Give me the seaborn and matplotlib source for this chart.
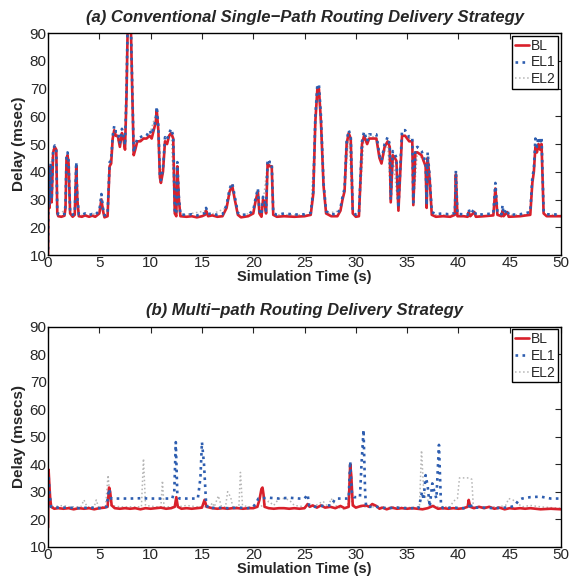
import pandas as pd
import matplotlib
matplotlib.use("Agg")
import matplotlib.pyplot as plt
from matplotlib.lines import Line2D
import seaborn as sns

# (a) single-path: (time s, delay ms)
bl_a = [(0.0, 10), (0.05, 40), (0.15, 27), (0.25, 42), (0.35, 29), (0.5, 47), (0.65, 49), (0.8, 48), (0.9, 25), (1.0, 24),
        (1.3, 23.8), (1.6, 24.2), (1.7, 27), (1.8, 45), (1.9, 46), (2.0, 43), (2.15, 25), (2.4, 23.8), (2.6, 24.5), (2.75, 42),
        (2.85, 30), (3.0, 24), (3.3, 23.8), (3.6, 24.3), (4.0, 23.8), (4.3, 24.2), (4.6, 23.8), (5.0, 25), (5.2, 30), (5.35, 26),
        (5.5, 23.6), (5.8, 24), (6.0, 42), (6.15, 43), (6.3, 52), (6.45, 55), (6.6, 53), (6.8, 53), (7.0, 49), (7.2, 54),
        (7.35, 52), (7.5, 48), (7.65, 68), (7.75, 90), (7.85, 96), (8.05, 96), (8.2, 70), (8.35, 46), (8.5, 48), (8.7, 51),
        (9.0, 51), (9.3, 52), (9.6, 52), (9.9, 53), (10.1, 52), (10.3, 55), (10.5, 58), (10.6, 62), (10.75, 55), (10.9, 38),
        (11.0, 36), (11.2, 40), (11.4, 51), (11.6, 50), (11.8, 53), (12.0, 54), (12.2, 52), (12.35, 25), (12.5, 24), (12.6, 42),
        (12.75, 30), (12.9, 24), (13.5, 23.8), (14.0, 24), (14.5, 23.6), (15.0, 24), (15.3, 24.5), (15.4, 26), (15.6, 24), (16.0, 24.3),
        (16.5, 23.8), (17.0, 24), (17.4, 27), (17.7, 33), (17.95, 35), (18.2, 30), (18.5, 24.5), (18.8, 23.6), (19.5, 24), (20.0, 25),
        (20.2, 29), (20.45, 33), (20.6, 25), (20.8, 23.8), (20.95, 30), (21.1, 29), (21.25, 25), (21.4, 43), (21.6, 42), (21.8, 42),
        (21.95, 24.5), (22.3, 23.8), (23.0, 24), (24.0, 23.8), (25.0, 24), (25.6, 24.5), (25.85, 32), (26.05, 58), (26.25, 70), (26.4, 70),
        (26.6, 58), (26.85, 35), (27.1, 25), (27.6, 24), (28.2, 24), (28.5, 26), (28.7, 30), (28.9, 33), (29.1, 50), (29.3, 54),
        (29.5, 52), (29.7, 25), (30.0, 23.8), (30.3, 24), (30.6, 50), (30.8, 53), (31.1, 50), (31.3, 52), (31.6, 52), (32.0, 52),
        (32.3, 45), (32.5, 43), (32.8, 49), (33.1, 51), (33.3, 49), (33.4, 29), (33.6, 46), (33.8, 45), (33.95, 44), (34.15, 26),
        (34.5, 53), (34.8, 53), (35.2, 51), (35.5, 51), (35.6, 28), (35.8, 47), (36.0, 47), (36.4, 46), (36.6, 44), (36.8, 42),
        (36.9, 27), (37.0, 45), (37.2, 37), (37.4, 24.5), (37.8, 23.8), (38.5, 24), (39.2, 23.8), (39.65, 24.5), (39.75, 39), (39.9, 24),
        (40.5, 24), (40.9, 23.8), (41.0, 25.5), (41.15, 24), (41.55, 25.5), (41.7, 23.8), (42.5, 24), (43.4, 24.3), (43.6, 34), (43.8, 24.5),
        (44.2, 24), (44.3, 26), (44.4, 24), (44.75, 25.5), (44.9, 23.8), (46.0, 24), (47.0, 24.5), (47.2, 36), (47.35, 40), (47.5, 49),
        (47.65, 47), (47.8, 50), (47.95, 48), (48.1, 50), (48.3, 25), (48.6, 24), (50.0, 24)]

el1_a = [(0.0, 12), (0.05, 42), (0.15, 28), (0.25, 43), (0.35, 30), (0.5, 48), (0.65, 49.5), (0.8, 48.5), (0.9, 25.5), (1.0, 24.6),
         (1.3, 24.5), (1.6, 24.8), (1.7, 28), (1.8, 46), (1.9, 47), (2.0, 44), (2.15, 25.5), (2.4, 24.5), (2.6, 25), (2.75, 43.5),
         (2.85, 31), (3.0, 24.6), (3.3, 24.5), (3.6, 25), (4.0, 24.4), (4.3, 24.8), (4.6, 24.5), (5.0, 26), (5.2, 32), (5.35, 27),
         (5.5, 24.3), (5.8, 24.6), (6.0, 43.5), (6.15, 44), (6.3, 53), (6.45, 56.5), (6.6, 54.5), (6.8, 54.5), (7.0, 50.5), (7.2, 55.5),
         (7.35, 53), (7.5, 49.5), (7.65, 70), (7.75, 92), (7.85, 97), (8.05, 97), (8.2, 72), (8.35, 47), (8.5, 49.5), (8.7, 52),
         (9.0, 52.5), (9.3, 53), (9.6, 53), (9.9, 55), (10.1, 53.5), (10.3, 56), (10.5, 59), (10.6, 63.5), (10.75, 56.5), (10.9, 39),
         (11.0, 37), (11.2, 41), (11.4, 52.5), (11.6, 51.5), (11.8, 54), (12.0, 55.5), (12.2, 53), (12.35, 26), (12.5, 24.8), (12.6, 43.5),
         (12.75, 31), (12.9, 24.6), (13.5, 24.5), (14.0, 24.7), (14.5, 24.3), (15.0, 24.7), (15.3, 25.2), (15.4, 27), (15.6, 24.8), (16.0, 25),
         (16.5, 24.5), (17.0, 24.7), (17.4, 28), (17.7, 34), (17.95, 36), (18.2, 31), (18.5, 25.2), (18.8, 24.4), (19.5, 24.7), (20.0, 26),
         (20.2, 30), (20.45, 34), (20.6, 26), (20.8, 24.5), (20.95, 31), (21.1, 30), (21.25, 26), (21.4, 44.5), (21.6, 43.5), (21.8, 43.5),
         (21.95, 25.2), (22.3, 24.5), (23.0, 25), (24.0, 24.6), (25.0, 24.7), (25.6, 25.2), (25.85, 33), (26.05, 60), (26.25, 71.5), (26.4, 71.5),
         (26.6, 60), (26.85, 36), (27.1, 25.8), (27.6, 24.7), (28.2, 24.8), (28.5, 27), (28.7, 31), (28.9, 34), (29.1, 51), (29.3, 55),
         (29.5, 53), (29.7, 25.8), (30.0, 24.5), (30.3, 24.8), (30.6, 51), (30.8, 54.5), (31.1, 51), (31.3, 53.5), (31.6, 53.5), (32.0, 53.5),
         (32.3, 46), (32.5, 44), (32.8, 50), (33.1, 52.5), (33.3, 50), (33.4, 30), (33.6, 47.5), (33.8, 46.5), (33.95, 45), (34.15, 27),
         (34.5, 55), (34.8, 55), (35.2, 52.5), (35.5, 52.5), (35.6, 29), (35.8, 48.5), (36.0, 49), (36.4, 47.5), (36.6, 45.5), (36.8, 43.5),
         (36.9, 28), (37.0, 47), (37.2, 38), (37.4, 25.5), (37.8, 24.8), (38.5, 25), (39.2, 24.6), (39.65, 25.2), (39.75, 40.5), (39.9, 24.8),
         (40.5, 24.7), (40.9, 24.5), (41.0, 26.5), (41.15, 24.8), (41.55, 26.5), (41.7, 24.5), (42.5, 24.7), (43.4, 25), (43.6, 36), (43.8, 25.2),
         (44.2, 24.7), (44.3, 28), (44.4, 24.8), (44.75, 26.5), (44.9, 24.5), (46.0, 24.7), (47.0, 25.5), (47.2, 38), (47.35, 41), (47.5, 52),
         (47.65, 49), (47.8, 52.5), (47.95, 50), (48.1, 52.5), (48.3, 26), (48.6, 24.7), (50.0, 24.6)]

el2_a = [(0.0, 10), (0.05, 41), (0.25, 42), (0.5, 48), (0.8, 48), (0.9, 25), (1.7, 26), (1.85, 46), (2.15, 25), (2.6, 24.5),
         (2.75, 42), (3.0, 24.2), (5.0, 25), (5.2, 31), (5.5, 24), (5.8, 24.2), (6.0, 42), (6.3, 52), (6.45, 55), (7.0, 49.5),
         (7.2, 54), (7.5, 48.5), (7.75, 90), (7.85, 96), (8.05, 96), (8.35, 46), (8.7, 51), (9.9, 53.5), (10.6, 62), (10.9, 38),
         (11.0, 36), (11.4, 51), (12.0, 54.5), (12.35, 25), (12.6, 42), (12.9, 24.2), (15.4, 26), (15.6, 24.2), (17.4, 27), (17.95, 35),
         (18.5, 24.5), (20.0, 25), (20.45, 33), (20.8, 24), (21.4, 43), (21.8, 42), (21.95, 24.5), (25.6, 24.5), (26.25, 70), (26.4, 70),
         (26.85, 35), (27.1, 25), (28.5, 26), (28.9, 33), (29.3, 54), (29.7, 25), (30.3, 24), (30.8, 53), (32.0, 52.5), (32.5, 43.5),
         (33.1, 51), (33.4, 29), (33.6, 46), (34.15, 26), (34.5, 53.5), (35.5, 51.5), (35.6, 28), (36.0, 47.5), (36.8, 42.5), (36.9, 27),
         (37.0, 45.5), (37.4, 24.5), (39.65, 24.5), (39.75, 39.5), (39.9, 24), (43.4, 24.3), (43.6, 34.5), (43.8, 24.5), (47.0, 24.5), (47.5, 49.5),
         (48.1, 50.5), (48.3, 25), (50.0, 24.2)]

# (b) multi-path
bl_b = [(0.0, 17), (0.05, 38), (0.12, 33), (0.2, 28), (0.3, 24.5), (0.6, 23.8), (1.0, 24), (1.5, 23.8), (2.0, 24), (2.5, 23.6),
        (3.0, 24), (3.5, 23.8), (4.0, 24), (4.5, 23.6), (5.0, 24), (5.5, 24.2), (5.8, 24.5), (5.95, 31.5), (6.05, 30), (6.2, 25),
        (6.5, 24), (7.0, 23.8), (7.5, 24), (8.0, 23.8), (8.5, 24), (9.0, 23.6), (9.5, 24), (10.0, 23.8), (10.5, 24), (11.0, 24.2),
        (11.5, 23.8), (12.0, 24), (12.35, 24.5), (12.5, 28), (12.65, 24.5), (13.0, 23.8), (13.5, 24), (14.0, 23.8), (14.5, 24), (15.0, 24.2),
        (15.25, 27), (15.45, 24.5), (16.0, 24), (16.5, 23.8), (17.0, 24), (17.5, 23.8), (18.0, 24), (18.5, 24), (19.0, 23.8), (19.5, 24),
        (20.0, 24), (20.4, 24.5), (20.6, 27), (20.8, 31), (20.9, 31.5), (21.0, 29), (21.1, 24.5), (21.5, 24), (22.0, 23.8), (22.5, 24),
        (23.0, 24), (23.5, 23.8), (24.0, 24), (24.5, 23.8), (25.0, 24), (25.3, 25.5), (25.5, 24.5), (25.8, 25), (26.2, 24.2), (26.6, 25),
        (27.0, 24.2), (27.5, 24.5), (28.0, 24), (28.5, 24.8), (28.9, 24), (29.3, 24.5), (29.45, 40), (29.55, 36), (29.7, 25), (30.0, 24.2),
        (30.5, 24.8), (31.0, 25), (31.3, 24.5), (31.6, 25.5), (32.0, 24.8), (32.3, 23.8), (32.6, 24.2), (33.0, 23.6), (33.5, 24.2), (34.0, 23.8),
        (34.5, 24), (35.0, 23.8), (35.5, 24), (36.0, 23.8), (36.5, 23.6), (37.0, 24), (37.5, 24.8), (38.0, 23.8), (38.5, 24), (39.0, 23.8),
        (39.5, 24), (40.0, 23.8), (40.5, 24), (40.9, 24.5), (41.0, 27), (41.15, 24.5), (41.5, 24), (42.0, 24.5), (42.5, 24), (43.0, 24.5),
        (43.5, 23.8), (44.0, 24.2), (44.5, 23.6), (45.0, 24), (45.5, 23.8), (46.0, 24), (46.5, 23.8), (47.0, 24), (48.0, 23.6), (49.0, 23.8),
        (50.0, 23.6)]

el1_b = [(0.0, 24), (0.05, 36), (0.15, 29), (0.3, 24.5), (1.0, 24.2), (2.0, 24.2), (3.0, 24), (4.0, 24.2), (5.0, 24), (5.7, 24.5),
         (5.95, 31), (6.15, 27.5), (7.0, 27.5), (8.0, 27.5), (9.0, 27.6), (10.0, 27.5), (11.0, 27.5), (12.1, 27.5), (12.3, 30), (12.45, 48),
         (12.6, 29), (12.8, 27.5), (13.5, 27.5), (14.6, 27.5), (14.85, 35), (15.0, 48), (15.2, 40), (15.4, 26), (15.6, 24), (16.5, 24.2),
         (17.5, 24), (18.5, 24.2), (19.5, 24), (20.0, 24.5), (20.3, 26), (20.5, 27.5), (21.5, 27.8), (22.5, 27.5), (23.5, 27.8), (24.5, 27.5),
         (25.0, 27.5), (25.3, 29), (25.45, 25), (26.0, 24.5), (27.0, 25), (27.6, 25), (28.0, 27.5), (28.6, 27.5), (29.3, 27.5), (29.45, 41),
         (29.6, 30), (29.8, 28), (30.4, 28), (30.55, 40), (30.75, 52.5), (30.9, 30), (31.0, 24.5), (32.0, 24.5), (33.0, 24), (34.0, 24.2),
         (35.0, 24), (36.1, 24), (36.3, 27), (36.45, 30), (36.6, 27), (36.8, 36), (37.0, 32), (37.2, 24.5), (37.45, 33), (37.65, 30),
         (37.85, 27.5), (38.1, 47), (38.3, 25), (38.5, 24), (39.5, 24.2), (40.5, 24), (41.0, 24.2), (41.15, 26), (41.3, 24.2), (42.5, 24.2),
         (43.5, 24), (44.5, 24.2), (45.0, 24.3), (45.5, 25), (45.9, 27), (46.2, 27.5), (47.0, 28), (48.0, 28.2), (49.0, 27.5), (50.0, 27.5)]

el2_b = [(0.0, 22), (0.1, 35), (0.25, 26), (0.5, 24.5), (1.5, 25), (2.0, 24.5), (3.2, 24.5), (3.5, 27), (3.8, 24.5), (4.5, 24.5),
         (4.7, 27), (4.9, 24.5), (5.6, 24.5), (5.85, 36), (6.1, 25), (7.0, 24.5), (8.0, 24.5), (9.1, 24.5), (9.3, 42), (9.5, 25),
         (10.5, 24.5), (11.0, 24.5), (11.15, 34), (11.3, 24.5), (12.3, 24.5), (12.5, 28), (12.7, 24.5), (13.5, 25), (14.5, 24.5), (15.8, 24.5),
         (16.0, 26), (16.2, 24.5), (16.6, 28.5), (16.9, 24.5), (17.3, 24.5), (17.5, 30), (17.8, 28), (18.0, 24.5), (18.6, 24.5), (18.75, 37),
         (18.95, 25), (19.5, 24.5), (20.5, 24.5), (21.0, 25), (21.5, 26.5), (22.0, 25), (22.5, 27.5), (23.0, 27.5), (23.5, 27), (24.0, 25),
         (25.0, 24.5), (26.0, 24.8), (26.8, 26.5), (27.3, 24.5), (27.6, 27.5), (28.0, 25), (28.5, 24), (28.9, 23.5), (29.2, 24.5), (29.4, 37),
         (29.6, 26), (30.0, 24.5), (31.0, 24.5), (32.0, 24.5), (33.0, 24.2), (34.0, 24.5), (35.0, 24.2), (36.2, 24.5), (36.4, 45), (36.6, 31),
         (36.8, 28), (37.2, 26), (37.6, 25), (38.0, 24.5), (39.2, 24.5), (39.5, 26.5), (39.9, 27.5), (40.1, 35), (40.5, 35), (41.0, 35),
         (41.3, 34.5), (41.45, 24.5), (42.0, 24.5), (43.0, 24.5), (44.0, 24.5), (44.6, 25), (44.9, 27.5), (45.3, 27), (45.7, 26), (46.2, 24.5),
         (47.0, 25), (48.0, 24.5), (49.0, 24.2), (50.0, 24)]

series_names = ["BL", "EL1", "EL2"]
titles = ["(a) Conventional Single\u2212Path Routing Delivery Strategy",
          "(b) Multi\u2212path Routing Delivery Strategy"]
ylabels = ["Delay (msec)", "Delay (msecs)"]
x_ticks = list(range(0, 51, 5))
y_ticks = list(range(10, 91, 10))

RED = "#d9202b"
BLUE = "#2e5eb0"
GREY = "#b5b5b5"

sns.set_style("white")
plt.rcParams["font.family"] = ["Liberation Sans", "DejaVu Sans"]

fig = plt.figure(figsize=(5.79, 5.81), dpi=100)
ax_a = fig.add_axes([0.083, 0.561, 0.886, 0.382])
ax_b = fig.add_axes([0.083, 0.059, 0.886, 0.379])


def to_df(points):
    return pd.DataFrame(points, columns=["t", "delay"])


def draw(ax, bl, el1, el2, title, ylabel):
    # grey underneath, then red, blue dots on top
    sns.lineplot(data=to_df(el2), x="t", y="delay", ax=ax, color=GREY, linestyle=":",
                 linewidth=1.1, estimator=None, sort=False, legend=False)
    sns.lineplot(data=to_df(bl), x="t", y="delay", ax=ax, color=RED, linestyle="-",
                 linewidth=1.9, estimator=None, sort=False, legend=False)
    sns.lineplot(data=to_df(el1), x="t", y="delay", ax=ax, color=BLUE, linestyle=":",
                 linewidth=1.9, estimator=None, sort=False, legend=False)

    ax.set_xlim(0, 50)
    ax.set_ylim(10, 90)
    ax.set_xticks(x_ticks)
    ax.set_yticks(y_ticks)
    ax.tick_params(direction="in", top=True, right=True, length=4, width=0.8,
                   labelsize=11, pad=1)
    for sp in ax.spines.values():
        sp.set_color("black")
        sp.set_linewidth(1.0)
    ax.set_title(title, fontsize=12, fontweight="bold", fontstyle="italic", pad=8)
    ax.set_xlabel("Simulation Time (s)", fontsize=10.5, fontweight="bold", labelpad=0)
    ax.set_ylabel(ylabel, fontsize=11, fontweight="bold", labelpad=3)

    handles = [Line2D([], [], color=RED, linestyle="-", linewidth=1.9),
               Line2D([], [], color=BLUE, linestyle=":", linewidth=1.9),
               Line2D([], [], color=GREY, linestyle=":", linewidth=1.1)]
    leg = ax.legend(handles, series_names, loc="upper right", fontsize=10,
                    frameon=True, fancybox=False, framealpha=1, edgecolor="black",
                    handlelength=1.0, handletextpad=0.15, labelspacing=0.2,
                    borderpad=0.2, borderaxespad=0.2)
    leg.get_frame().set_linewidth(1.0)


draw(ax_a, bl_a, el1_a, el2_a, titles[0], ylabels[0])
draw(ax_b, bl_b, el1_b, el2_b, titles[1], ylabels[1])

fig.savefig("out.png", dpi=100)
